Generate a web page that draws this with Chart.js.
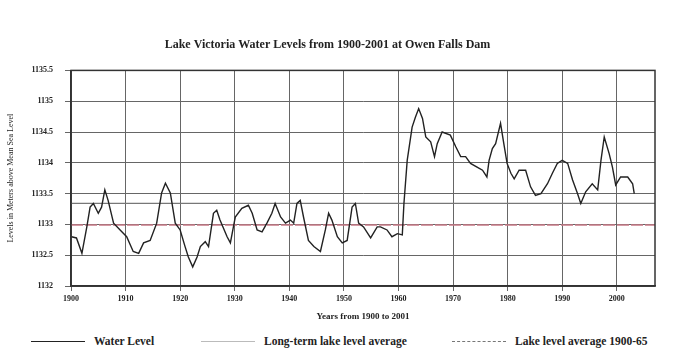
<!DOCTYPE html>
<html>
<head>
<meta charset="utf-8">
<script src="https://cdn.jsdelivr.net/npm/chart.js@4.4.0/dist/chart.umd.min.js"></script>
<style>
  html, body { margin: 0; padding: 0; background: #fff; }
  #wrap { position: relative; width: 694px; height: 360px; }
  #wrap canvas { position: absolute; left: 0; top: 0; }
  .leg { position: absolute; top: 333px; height: 16px; display: flex; align-items: center;
         font: bold 11.5px "Liberation Serif", serif; color: #222; white-space: nowrap; }
  .leg i { display: inline-block; width: 54px; height: 0; margin-right: 9px; }
</style>
</head>
<body>
<div id="wrap">
  <canvas id="chart" width="694" height="330"></canvas>
  <div class="leg" style="left:31px"><i style="border-top:1.2px solid #222"></i>Water Level</div>
  <div class="leg" style="left:201px"><i style="border-top:1.2px solid #bbb"></i>Long-term lake level average</div>
  <div class="leg" style="left:452px"><i style="border-top:1.2px dashed #777"></i>Lake level average 1900-65</div>
</div>
<script>
// Lake Victoria levels (year, metres)
var years = [1900.1, 1901.0, 1902.0, 1902.9, 1903.5, 1904.1, 1905.0, 1905.6, 1906.2, 1906.8,
  1907.8, 1909.0, 1910.2, 1911.4, 1912.4, 1913.3, 1914.5, 1915.7, 1916.6, 1917.3,
  1918.2, 1919.1, 1920.0, 1920.9, 1921.5, 1922.3, 1923.1, 1923.7, 1924.6, 1925.2,
  1926.1, 1926.7, 1927.3, 1928.6, 1929.2, 1930.1, 1931.3, 1932.5, 1933.2, 1934.1,
  1935.0, 1935.9, 1936.8, 1937.4, 1938.4, 1939.3, 1940.2, 1940.8, 1941.4, 1942.0,
  1942.6, 1943.5, 1944.5, 1945.7, 1946.6, 1947.2, 1947.8, 1948.8, 1949.7, 1950.6,
  1951.5, 1952.1, 1952.7, 1953.6, 1954.9, 1956.1, 1956.7, 1957.9, 1958.8, 1959.8,
  1960.7, 1961.0, 1961.6, 1962.5, 1963.1, 1963.7, 1964.4, 1965.0, 1965.9, 1966.6,
  1967.1, 1968.0, 1969.5, 1970.5, 1971.4, 1972.3, 1973.2, 1974.4, 1975.4, 1976.2,
  1976.6, 1977.2, 1977.8, 1978.7, 1979.3, 1979.9, 1980.6, 1981.2, 1982.1, 1983.3,
  1984.2, 1985.1, 1986.1, 1987.3, 1988.2, 1989.1, 1990.0, 1991.0, 1991.9, 1992.8,
  1993.4, 1994.3, 1995.5, 1996.5, 1997.1, 1997.7, 1998.6, 1999.2, 1999.8, 2000.7,
  2002.0, 2002.9, 2003.2];
var waterLevel = [1132.80, 1132.78, 1132.53, 1132.96, 1133.28, 1133.34, 1133.18, 1133.28, 1133.56, 1133.39,
  1133.02, 1132.91, 1132.80, 1132.56, 1132.53, 1132.70, 1132.74, 1133.02, 1133.51, 1133.67,
  1133.51, 1133.02, 1132.91, 1132.64, 1132.47, 1132.31, 1132.47, 1132.64, 1132.72, 1132.64,
  1133.18, 1133.23, 1133.07, 1132.80, 1132.70, 1133.12, 1133.26, 1133.31, 1133.18, 1132.91,
  1132.88, 1133.02, 1133.18, 1133.34, 1133.12, 1133.02, 1133.07, 1133.02, 1133.34, 1133.39,
  1133.12, 1132.74, 1132.64, 1132.56, 1132.91, 1133.18, 1133.07, 1132.80, 1132.70, 1132.74,
  1133.28, 1133.34, 1133.02, 1132.96, 1132.78, 1132.96, 1132.96, 1132.91, 1132.80, 1132.85,
  1132.83, 1133.34, 1134.04, 1134.58, 1134.74, 1134.88, 1134.72, 1134.42, 1134.34, 1134.10,
  1134.31, 1134.50, 1134.45, 1134.26, 1134.10, 1134.10, 1133.99, 1133.93, 1133.88, 1133.77,
  1134.04, 1134.23, 1134.31, 1134.64, 1134.31, 1133.99, 1133.83, 1133.74, 1133.88, 1133.88,
  1133.61, 1133.47, 1133.50, 1133.66, 1133.83, 1133.99, 1134.04, 1133.99, 1133.72, 1133.50,
  1133.34, 1133.53, 1133.66, 1133.56, 1134.04, 1134.42, 1134.15, 1133.93, 1133.64, 1133.77,
  1133.77, 1133.66, 1133.50];

var longTermAvg = 1133.34;
var avg1900to65 = 1132.99;

var xTicks = [1900, 1910, 1920, 1930, 1940, 1950, 1960, 1970, 1980, 1990, 2000];
var yTicks = [1132, 1132.5, 1133, 1133.5, 1134, 1134.5, 1135, 1135.5];
var xMin = 1900, xMax = 2007;

var serif = "Liberation Serif";
var ink = "#222";

var levelPoints = years.map(function (y, i) { return { x: y, y: waterLevel[i] }; });

// dark frame round the plot area
var frame = {
  id: "frame",
  afterDatasetsDraw: function (chart) {
    var a = chart.chartArea, ctx = chart.ctx;
    ctx.save();
    ctx.strokeStyle = "#333";
    ctx.lineWidth = 1.5;
    ctx.strokeRect(a.left, a.top, a.right - a.left, a.bottom - a.top);
    ctx.restore();
  }
};

new Chart(document.getElementById("chart"), {
  type: "line",
  data: {
    datasets: [
      { label: "Water Level", data: levelPoints, borderColor: "#222", borderWidth: 1.4,
        pointRadius: 0, tension: 0, order: 0 },
      { label: "Long-term lake level average",
        data: [{ x: xMin, y: longTermAvg }, { x: xMax, y: longTermAvg }],
        borderColor: "#777", borderWidth: 1.2, pointRadius: 0, order: 2 },
      { label: "Lake level average 1900-65",
        data: [{ x: xMin, y: avg1900to65 }, { x: xMax, y: avg1900to65 }],
        borderColor: "#c87a86", borderWidth: 1.4, borderDash: [12, 2], pointRadius: 0, order: 1 }
    ]
  },
  options: {
    responsive: false,
    animation: false,
    layout: { padding: { left: 0, right: 39, top: 0, bottom: 0 } },
    plugins: {
      legend: { display: false },
      tooltip: { enabled: false },
      title: {
        display: true,
        text: "Lake Victoria Water Levels from 1900-2001 at Owen Falls Dam",
        color: ink,
        font: { family: serif, size: 12, weight: "bold" },
        padding: { top: 38, bottom: 18 }
      }
    },
    scales: {
      x: {
        type: "linear", min: xMin, max: xMax,
        afterBuildTicks: function (s) { s.ticks = xTicks.map(function (v) { return { value: v }; }); },
        afterFit: function (s) { s.height = 44; },
        grid: { color: "#666", lineWidth: 1, tickLength: 5 },
        border: { color: "#333", width: 1.5 },
        ticks: { color: ink, font: { family: serif, size: 8, weight: "bold" }, padding: 3,
                 maxRotation: 0, autoSkip: false, callback: function (v) { return String(v); } },
        title: { display: true, text: "Years from 1900 to 2001", color: ink,
                 font: { family: serif, size: 9, weight: "bold" }, padding: { top: 0, bottom: 8 } }
      },
      y: {
        min: 1132, max: 1135.5,
        afterBuildTicks: function (s) { s.ticks = yTicks.map(function (v) { return { value: v }; }); },
        afterFit: function (s) { s.width = 71; },
        grid: { color: "#666", lineWidth: 1, tickLength: 6 },
        border: { color: "#333", width: 1.5 },
        ticks: { color: ink, font: { family: serif, size: 8, weight: "bold" }, padding: 12,
                 callback: function (v) { return String(+v.toFixed(1)); } },
        title: { display: true, text: "Levels in Meters above Mean Sea Level", color: ink,
                 font: { family: serif, size: 8 }, padding: { top: 6, bottom: 0 } }
      }
    }
  },
  plugins: [frame]
});
</script>
</body>
</html>
